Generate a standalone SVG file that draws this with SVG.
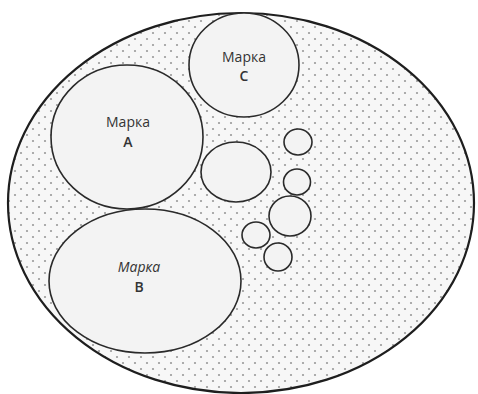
<svg xmlns="http://www.w3.org/2000/svg" width="478" height="394" viewBox="0 0 478 394">
<style>
.outer{fill:url(#dots);stroke:#1e1e1e;stroke-width:2.2}
.seg{fill:#f3f3f3;stroke:#2a2a2a;stroke-width:1.6}
.lbl{font-family:"Open Sans","DejaVu Sans",sans-serif;font-size:14px;fill:#333;text-anchor:middle}
.ltr{font-weight:600}
.it{font-style:italic}
</style>
<defs>
<pattern id="dots" x="0" y="0" width="12" height="12" patternUnits="userSpaceOnUse">
<rect width="12" height="12" fill="#f7f7f7"/>
<circle cx="3" cy="3" r="1.1" fill="#9a9a9a"/>
<circle cx="9" cy="9" r="1.1" fill="#9a9a9a"/>
</pattern>
</defs>
<rect width="478" height="394" fill="#ffffff"/>
<g id="market">
<ellipse class="outer" cx="241" cy="203" rx="233" ry="190"/>
</g>
<g id="brand-c">
<ellipse class="seg" cx="244" cy="65" rx="55" ry="52"/>
<text class="lbl" x="244" y="62">Марка</text>
<text class="lbl ltr" x="244" y="81">C</text>
</g>
<g id="brand-a">
<ellipse class="seg" cx="127" cy="137" rx="76" ry="72"/>
<text class="lbl" x="128" y="127">Марка</text>
<text class="lbl ltr" x="128" y="147">A</text>
</g>
<g id="brand-b">
<ellipse class="seg" cx="145" cy="281" rx="96" ry="72"/>
<text class="lbl it" x="139" y="272">Марка</text>
<text class="lbl ltr" x="139" y="292">B</text>
</g>
<g id="brand-d">
<ellipse class="seg" cx="236" cy="172" rx="35" ry="30"/>
</g>
<g id="brand-e">
<ellipse class="seg" cx="298" cy="142" rx="14" ry="13"/>
</g>
<g id="brand-f">
<ellipse class="seg" cx="297" cy="182" rx="13.5" ry="13"/>
</g>
<g id="brand-g">
<ellipse class="seg" cx="290" cy="216" rx="21" ry="20"/>
</g>
<g id="brand-h">
<ellipse class="seg" cx="256" cy="235" rx="14" ry="13"/>
</g>
<g id="brand-i">
<ellipse class="seg" cx="278" cy="257" rx="14" ry="14"/>
</g>
<g id="connectors"></g>
</svg>
